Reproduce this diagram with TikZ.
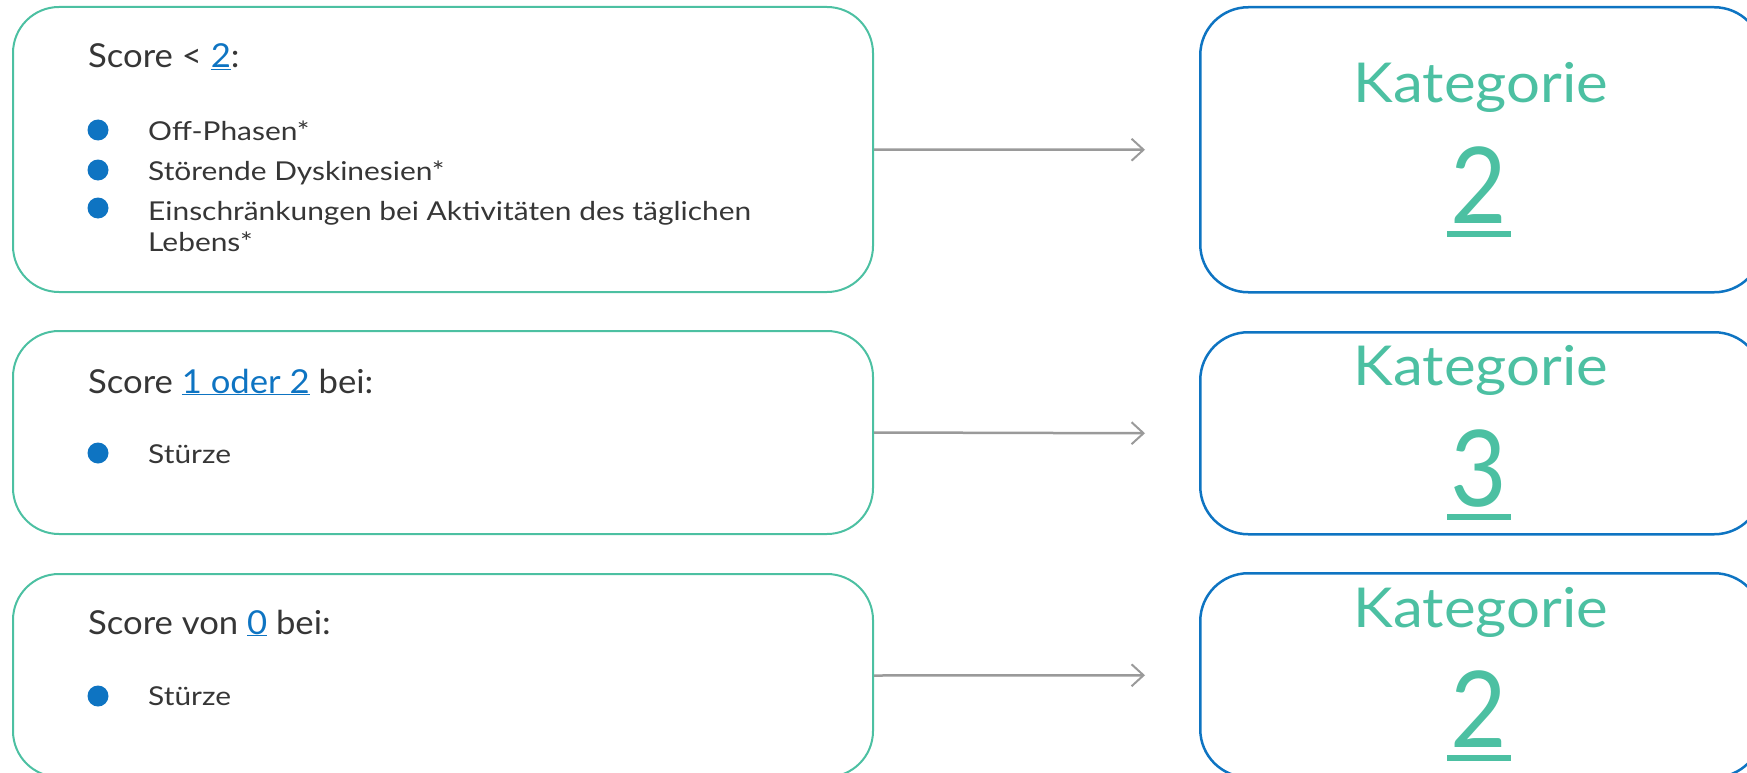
\documentclass[tikz,border=0pt]{standalone}
\usepackage{fontspec}
\setmainfont{Lato}
\newfontfamily\headfont{Lato}[FakeStretch=1.05]
\newfontfamily\itemfont{Lato}[FakeStretch=1.15]
\newfontfamily\katfont{Lato}[FakeStretch=1.09]
\newfontfamily\numfont{Lato}[FakeStretch=0.92]
\usetikzlibrary{arrows.meta,calc}
\definecolor{tealc}{HTML}{4CC0A2}
\definecolor{bluec}{HTML}{0E74C2}
\definecolor{txtc}{HTML}{363636}
\definecolor{arrc}{HTML}{9A9A9A}
\newcommand{\lnk}[1]{{\color{bluec}\underline{#1}}}
\tikzset{
  leftbox/.style={draw=tealc, line width=2pt, rounded corners=46pt, minimum width=860pt, inner sep=0pt, anchor=north west},
  rightbox/.style={draw=bluec, line width=2.5pt, rounded corners=48pt, minimum width=562pt, inner sep=0pt, anchor=north west},
  head/.style={anchor=base west, inner sep=0pt, text=txtc, font=\headfont\fontsize{33}{38}\selectfont},
  item/.style={anchor=base west, inner sep=0pt, text=txtc, font=\itemfont\fontsize{26}{31}\selectfont},
  dot/.style={circle, fill=bluec, minimum size=21pt, inner sep=0pt},
  kat/.style={anchor=base, inner sep=0pt, text=tealc, font=\katfont\fontsize{55}{60}\selectfont},
  num/.style={anchor=base, inner sep=0pt, text=tealc, font=\numfont\fontsize{106}{110}\selectfont},
  conn/.style={draw=arrc, line width=2.5pt, -{Straight Barb[length=12pt, width=22pt, line width=2pt]}}
}
\begin{document}
\begin{tikzpicture}[x=1pt,y=-1pt]
\useasboundingbox (0,0) rectangle (1747,773);
\clip (0,0) rectangle (1747,773);
% left boxes
\node[leftbox, minimum height=285pt] (b1) at (12,6) {};
\node[leftbox, minimum height=203pt] (b2) at (12,330) {};
\node[leftbox, minimum height=203pt] (b3) at (12,573) {};
% right boxes
\node[rightbox, minimum height=285pt] (k1) at (1199,6) {};
\node[rightbox, minimum height=202pt] (k2) at (1199,331) {};
\node[rightbox, minimum height=204pt] (k3) at (1199,572) {};
% box 1 text
\node[head] (h1) at (88,68) {Score < \lnk{2}:};
\node[dot] (d11) at (98,130) {};
\node[item] (t11) at (148,140) {Off-Phasen*};
\node[dot] (d12) at (98,170) {};
\node[item] (t12) at (148,180) {Störende Dyskinesien*};
\node[dot] (d13) at (98,208) {};
\node[item] (t13) at (148,220) {Einschränkungen bei Aktivitäten des täglichen};
\node[item] (t14) at (148,251) {Lebens*};
% box 2 text
\node[head] (h2) at (88,393) {Score \lnk{1 oder 2} bei:};
\node[dot] (d21) at (98,453) {};
\node[item] (t21) at (148,463) {Stürze};
% box 3 text
\node[head] (h3) at (88,634) {Score von \lnk{0} bei:};
\node[dot] (d31) at (98,696) {};
\node[item] (t31) at (148,705) {Stürze};
% right texts
\node[kat] (c1) at (1481,103) {Kategorie};
\node[num] (n1) at (1479,223) {2};
\node[kat] (c2) at (1481,385) {Kategorie};
\node[num] (n2) at (1479,506) {3};
\node[kat] (c3) at (1481,627) {Kategorie};
\node[num] (n3) at (1479,747) {2};
\foreach \n in {n1,n2,n3}{
  \fill[tealc] ($(\n.base)+(-32,8)$) rectangle ($(\n.base)+(32,13.5)$);
}
% connectors
\draw[conn] (b1.east) -- ([xshift=-54pt]k1.west);
\draw[conn] (b2.east) -- ([xshift=-54pt]k2.west);
\draw[conn] (b3.east) -- ([xshift=-54pt]k3.west);
\end{tikzpicture}
\end{document}
